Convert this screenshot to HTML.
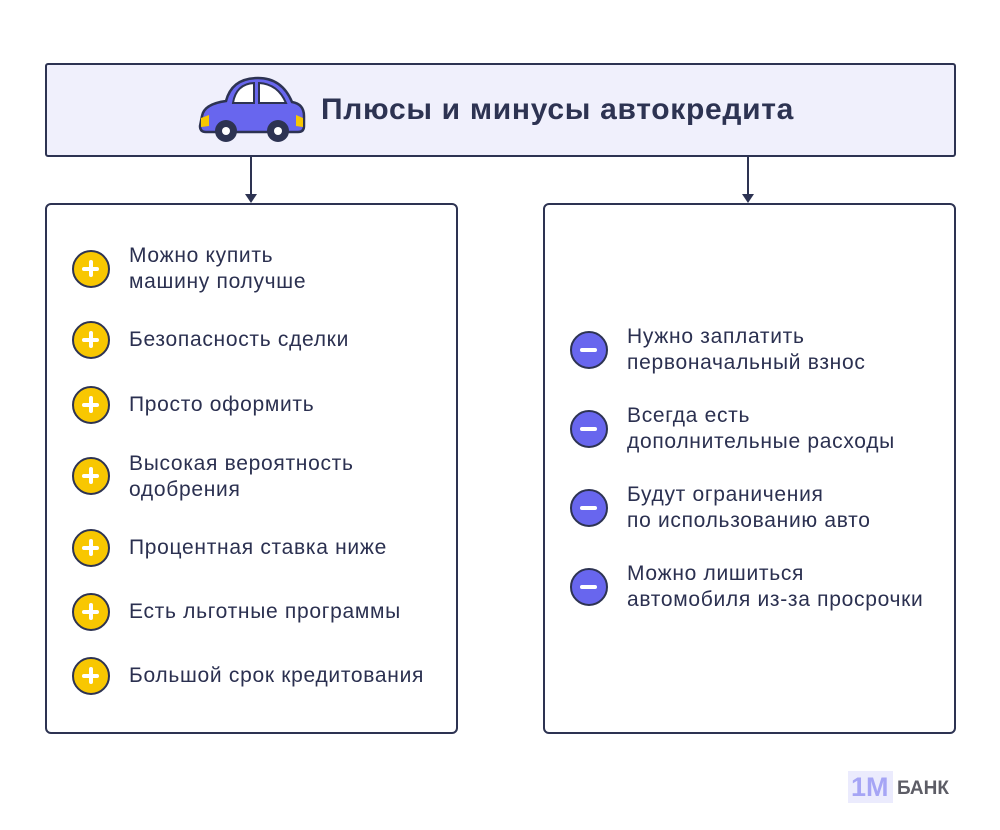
<!DOCTYPE html>
<html><head><meta charset="utf-8"><style>
body{margin:0;width:1000px;height:830px;background:#fff;position:relative;font-family:"Liberation Sans",sans-serif;color:#2b3050;overflow:hidden}
.box{position:absolute;border:2px solid #2d3352;border-radius:6px;box-sizing:border-box;background:#fff}
.ic{position:absolute;width:38px;height:38px;border-radius:50%;border:2.5px solid #2d3352;box-sizing:border-box}
.p{background:#f8c701}.m{background:#6866ee}
.ic:before{content:"";position:absolute;left:8px;top:14.5px;width:17px;height:4px;background:#fff;border-radius:2px}
.p:after{content:"";position:absolute;left:14.5px;top:8px;width:4px;height:17px;background:#fff;border-radius:2px}
.t{position:absolute;font-size:21px;letter-spacing:0.7px;line-height:26px;white-space:nowrap}
.ar{position:absolute;width:2px;background:#2d3352}
.ah{position:absolute;width:0;height:0;border-left:6px solid transparent;border-right:6px solid transparent;border-top:9px solid #2d3352}
</style></head><body>
<div class="box" style="left:45px;top:63px;width:911px;height:94px;background:#f0f0fc;border-radius:3px"></div>
<svg style="position:absolute;left:196px;top:74px" width="112" height="72" viewBox="0 0 112 72">
<path d="M6 42 Q8 30 30 27 Q36 4 62 4 Q86 4 96 28 Q108 30 108 42 L108 52 Q108 58 102 58 L10 58 Q4 58 4 52 Z" fill="#6866ee" stroke="#2d3352" stroke-width="2.5"/>
<path d="M37 29 Q40 10 58 9 L58 29 Z M63 9 Q82 10 90 29 L63 29 Z" fill="#fff" stroke="#2d3352" stroke-width="2"/>
<path d="M5 44 L13 41 L13 52 L5 53 Z" fill="#f8c701"/><path d="M107 44 L100 41 L100 52 L107 53 Z" fill="#f8c701"/>
<circle cx="30" cy="57" r="11" fill="#2d3352"/><circle cx="30" cy="57" r="4" fill="#fff"/>
<circle cx="82" cy="57" r="11" fill="#2d3352"/><circle cx="82" cy="57" r="4" fill="#fff"/>
</svg>
<div class="t" style="left:321px;top:92px;font-size:30px;letter-spacing:0.7px;line-height:36px;font-weight:bold;color:#2d3352">Плюсы и минусы автокредита</div>
<div class="ar" style="left:250px;top:157px;height:38px"></div><div class="ah" style="left:245px;top:194px"></div>
<div class="ar" style="left:747px;top:157px;height:38px"></div><div class="ah" style="left:742px;top:194px"></div>
<div class="box" style="left:45px;top:203px;width:413px;height:531px"></div>
<div class="box" style="left:543px;top:203px;width:413px;height:531px"></div>

<div class="ic p" style="left:72px;top:250px"></div><div class="t" style="left:129px;top:243px">Можно купить<br>машину получше</div>
<div class="ic p" style="left:72px;top:321px"></div><div class="t" style="left:129px;top:327px">Безопасность сделки</div>
<div class="ic p" style="left:72px;top:386px"></div><div class="t" style="left:129px;top:392px">Просто оформить</div>
<div class="ic p" style="left:72px;top:457px"></div><div class="t" style="left:129px;top:451px">Высокая вероятность<br>одобрения</div>
<div class="ic p" style="left:72px;top:529px"></div><div class="t" style="left:129px;top:535px">Процентная ставка ниже</div>
<div class="ic p" style="left:72px;top:593px"></div><div class="t" style="left:129px;top:599px">Есть льготные программы</div>
<div class="ic p" style="left:72px;top:657px"></div><div class="t" style="left:129px;top:663px">Большой срок кредитования</div>

<div class="ic m" style="left:570px;top:331px"></div><div class="t" style="left:627px;top:324px">Нужно заплатить<br>первоначальный взнос</div>
<div class="ic m" style="left:570px;top:410px"></div><div class="t" style="left:627px;top:403px">Всегда есть<br>дополнительные расходы</div>
<div class="ic m" style="left:570px;top:489px"></div><div class="t" style="left:627px;top:482px">Будут ограничения<br>по использованию авто</div>
<div class="ic m" style="left:570px;top:568px"></div><div class="t" style="left:627px;top:561px">Можно лишиться<br>автомобиля из-за просрочки</div>

<div style="position:absolute;left:848px;top:771px;width:45px;height:32px;background:#ebebfd"></div>
<div class="t" style="left:851px;top:772px;font-size:27px;letter-spacing:0;line-height:30px;font-weight:bold;color:#a6a5f5">1M</div>
<div class="t" style="left:897px;top:778px;font-size:19px;letter-spacing:0;line-height:22px;font-weight:bold;color:#5d5d66">БАНК</div>
</body></html>
